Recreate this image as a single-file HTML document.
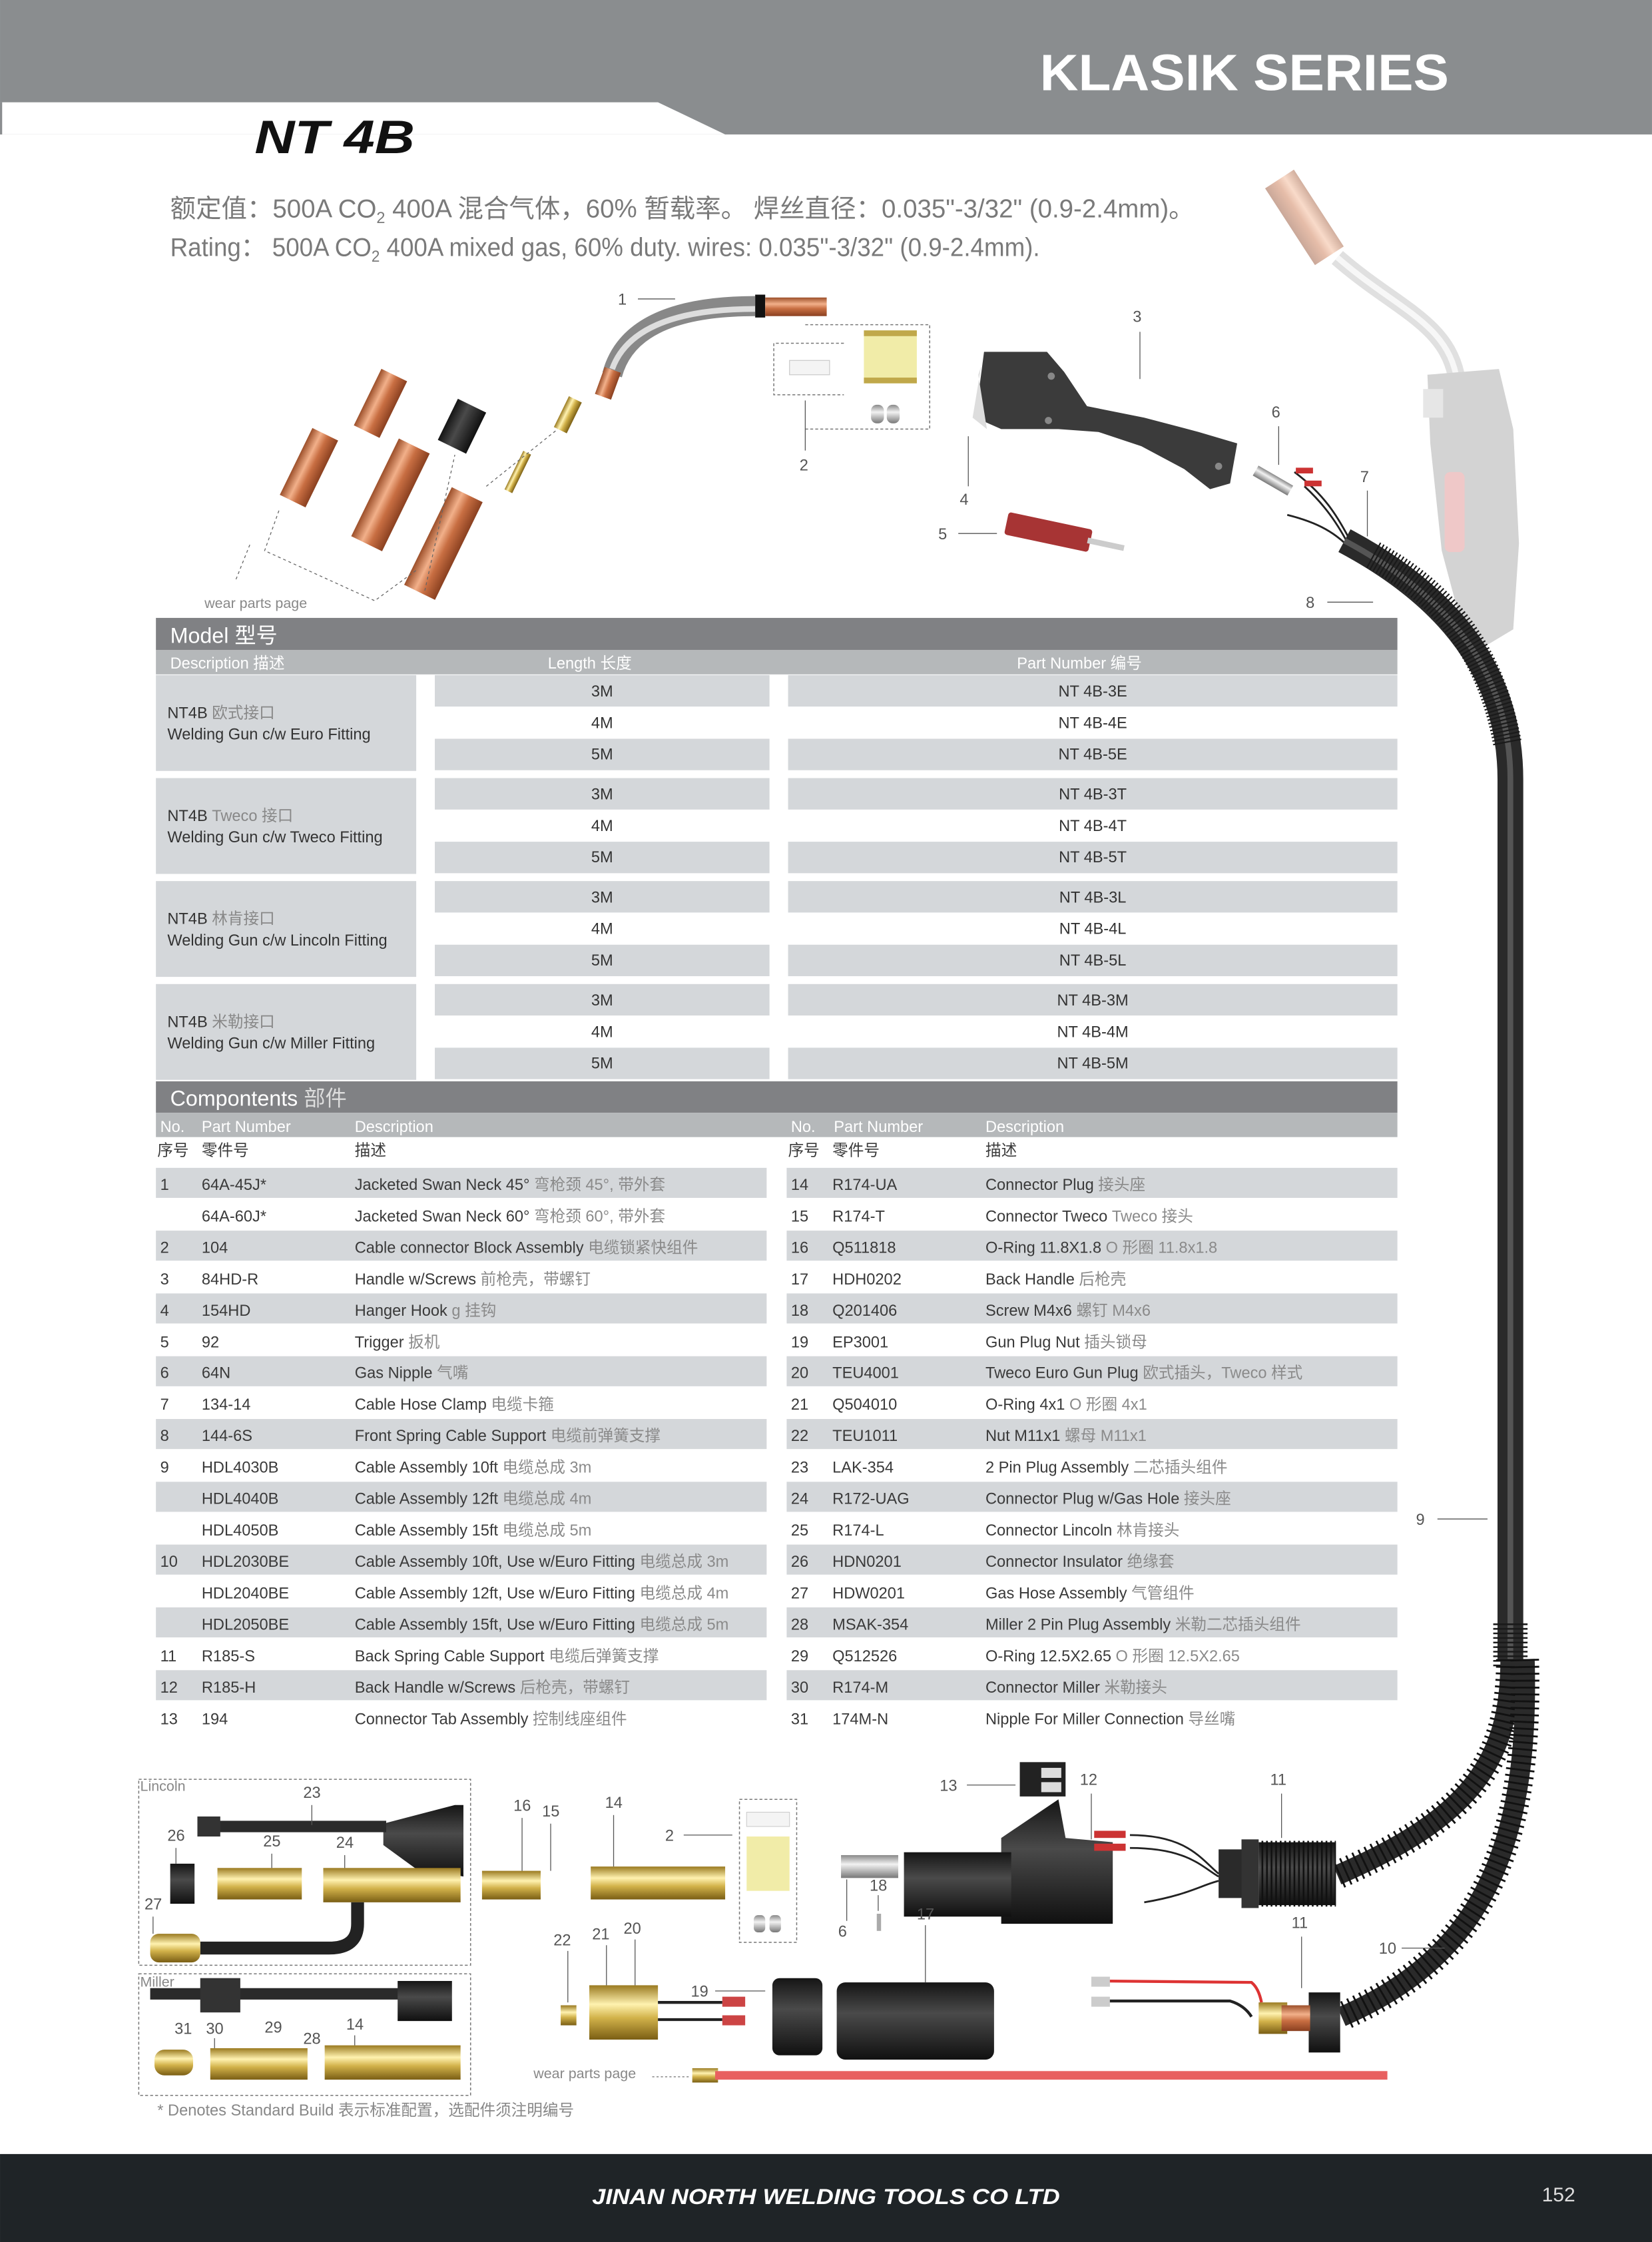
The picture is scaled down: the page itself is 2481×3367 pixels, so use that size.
<!DOCTYPE html>
<html><head><meta charset="utf-8"><style>
html,body{margin:0;padding:0;background:#fff;}
svg{display:block;}
text{font-family:"Liberation Sans","Noto Sans CJK SC",sans-serif;}
.t{font-size:11px;fill:#3a3a3a;}
.c{fill:#8a8a8a;}
.h{font-size:11px;fill:#fff;}
.n{font-size:11px;fill:#555;}
.g{fill:#d4d7da;}
</style></head><body>
<svg width="2481" height="3367" viewBox="0 0 1155 1567.5" xmlns="http://www.w3.org/2000/svg">
<defs>
<linearGradient id="cu" x1="0" y1="0" x2="0" y2="1"><stop offset="0" stop-color="#9c4f2a"/><stop offset=".35" stop-color="#f2b08a"/><stop offset=".6" stop-color="#c86e42"/><stop offset="1" stop-color="#8a4020"/></linearGradient>
<linearGradient id="au" x1="0" y1="0" x2="0" y2="1"><stop offset="0" stop-color="#9a7a20"/><stop offset=".35" stop-color="#fff2b0"/><stop offset=".6" stop-color="#d2b24a"/><stop offset="1" stop-color="#7a5e14"/></linearGradient>
<linearGradient id="bk" x1="0" y1="0" x2="0" y2="1"><stop offset="0" stop-color="#151515"/><stop offset=".4" stop-color="#4a4a4a"/><stop offset="1" stop-color="#101010"/></linearGradient>
<linearGradient id="ag" x1="0" y1="0" x2="0" y2="1"><stop offset="0" stop-color="#888"/><stop offset=".4" stop-color="#f2f2f2"/><stop offset="1" stop-color="#777"/></linearGradient>
</defs>

<rect x="0" y="0" width="1155" height="94" fill="#8a8d8f"/>
<polygon points="0,71.5 460,71.5 507,94 0,94" fill="#fff"/>
<rect x="0" y="71.5" width="1.5" height="22.5" fill="#8a8d8f"/>
<text x="727" y="63" font-size="36" font-weight="bold" fill="#fff" textLength="286" lengthAdjust="spacingAndGlyphs">KLASIK SERIES</text>
<text x="178" y="107" font-size="33" font-weight="bold" font-style="italic" fill="#111" textLength="112" lengthAdjust="spacingAndGlyphs">NT 4B</text>

<text x="119" y="152" font-size="18" fill="#7a7a7a" textLength="716" lengthAdjust="spacingAndGlyphs">额定值：500A CO<tspan font-size="11" dy="4">2</tspan><tspan dy="-4"> 400A 混合气体，60% 暂载率。 焊丝直径：0.035"-3/32" (0.9-2.4mm)。</tspan></text>
<text x="119" y="179" font-size="18" fill="#7a7a7a" textLength="608" lengthAdjust="spacingAndGlyphs">Rating： 500A CO<tspan font-size="11" dy="4">2</tspan><tspan dy="-4"> 400A mixed gas, 60% duty. wires: 0.035"-3/32" (0.9-2.4mm).</tspan></text>

<g opacity="0.45">
<g transform="translate(912,152) rotate(57)"><rect x="-32" y="-12" width="64" height="24" fill="url(#cu)"/></g>
<path d="M935,180 C975,215 1010,225 1018,262" stroke="#bbb" stroke-width="12" fill="none"/>
<path d="M935,180 C975,215 1010,225 1018,262" stroke="#eee" stroke-width="4" fill="none"/>
</g>
<path d="M998,262 L1048,258 L1058,300 L1062,380 L1058,440 L1038,452 L1020,430 L1008,385 L1000,310 Z" fill="#d3d3d3"/>
<rect x="1010" y="330" width="14" height="56" rx="4" fill="#efc8c8"/>
<rect x="995" y="272" width="14" height="20" fill="#e6e6e6"/>

<g transform="translate(266,282) rotate(-64)"><rect x="-22" y="-10" width="44" height="20" fill="url(#cu)"/></g>
<g transform="translate(216,327) rotate(-64)"><rect x="-26" y="-10" width="52" height="20" fill="url(#cu)"/></g>
<g transform="translate(273,346) rotate(-64)"><rect x="-38" y="-12" width="76" height="24" fill="url(#cu)"/></g>
<g transform="translate(310,380) rotate(-64)"><rect x="-38" y="-12" width="76" height="24" fill="url(#cu)"/></g>
<g transform="translate(323,298) rotate(-64)"><rect x="-16" y="-11" width="32" height="22" fill="url(#bk)"/></g>
<g transform="translate(397,290) rotate(-64)"><rect x="-12" y="-5" width="24" height="10" fill="url(#au)"/></g>
<g transform="translate(362,330) rotate(-64)"><rect x="-15" y="-3" width="30" height="6" fill="url(#au)"/></g>
<g stroke="#666" stroke-width="0.6" stroke-dasharray="2,2" fill="none">
<path d="M195,357 L185,385 L262,420 L292,398"/><path d="M165,405 L175,380"/><path d="M297,413 L318,318"/><path d="M340,340 L390,300"/>
</g>
<text x="143" y="425" font-size="10" fill="#888">wear parts page</text>

<path d="M428,262 C436,232 466,214 528,214" stroke="#888" stroke-width="14" fill="none"/>
<path d="M428,258 C437,233 466,216 528,216" stroke="#ddd" stroke-width="4" fill="none"/>
<g transform="translate(425,268) rotate(-70)"><rect x="-10" y="-6" width="20" height="12" fill="url(#cu)"/></g>
<rect x="528" y="206" width="7" height="16" fill="#111"/>
<rect x="535" y="208" width="43" height="13" fill="url(#cu)"/>
<text x="432" y="213" class="n">1</text><line x1="446" y1="209" x2="472" y2="209" stroke="#555" stroke-width="0.6"/>

<g stroke="#777" stroke-width="0.7" stroke-dasharray="2,1.5" fill="none">
<path d="M563,227 L650,227 L650,300 L563,300"/><path d="M590,240 L541,240 L541,276 L590,276"/>
</g>
<rect x="552" y="252" width="28" height="10" fill="#f4f4f4" stroke="#ccc" stroke-width="0.6"/>
<rect x="604" y="231" width="37" height="37" fill="#f1eca8"/>
<rect x="604" y="231" width="37" height="4" fill="#c0a84a"/><rect x="604" y="264" width="37" height="4" fill="#c0a84a"/>
<rect x="609" y="283" width="9" height="13" rx="4" fill="url(#ag)"/><rect x="620" y="283" width="9" height="13" rx="4" fill="url(#ag)"/>
<line x1="563" y1="280" x2="563" y2="315" stroke="#555" stroke-width="0.6"/><text x="559" y="329" class="n">2</text>

<path d="M688,246 L732,246 L744,260 L760,284 L800,292 L838,302 L865,310 L860,338 L846,342 L828,328 L798,312 L768,302 L740,300 L700,300 L682,292 Z" fill="#3b3b3b"/>
<path d="M686,256 L680,292 L690,300 L684,262 Z" fill="#ddd"/>
<circle cx="735" cy="263" r="2.5" fill="#888"/><circle cx="733" cy="294" r="2.5" fill="#888"/><circle cx="852" cy="326" r="2.5" fill="#888"/>
<text x="792" y="225" class="n">3</text><line x1="797" y1="232" x2="797" y2="265" stroke="#555" stroke-width="0.6"/>
<line x1="677" y1="305" x2="677" y2="340" stroke="#555" stroke-width="0.6"/><text x="671" y="353" class="n">4</text>
<g transform="translate(733,372) rotate(12)"><rect x="-30" y="-8" width="60" height="16" rx="2" fill="#a73434"/><rect x="28" y="-2" width="26" height="4" fill="#ccc"/></g>
<text x="656" y="377" class="n">5</text><line x1="670" y1="373" x2="697" y2="373" stroke="#555" stroke-width="0.6"/>
<g transform="translate(890,336) rotate(30)"><rect x="-14" y="-4" width="28" height="8" fill="url(#ag)"/></g>
<path d="M905,330 C925,345 935,360 945,380 M912,340 C925,352 935,365 945,385 M900,360 C920,365 935,372 948,388" stroke="#222" stroke-width="1.3" fill="none"/>
<rect x="906" y="327" width="12" height="4" fill="#c33"/><rect x="912" y="336" width="12" height="4" fill="#c33"/>
<text x="889" y="292" class="n">6</text><line x1="894" y1="298" x2="894" y2="325" stroke="#555" stroke-width="0.6"/>
<text x="951" y="337" class="n">7</text><line x1="956" y1="343" x2="956" y2="375" stroke="#555" stroke-width="0.6"/>
<text x="913" y="425" class="n">8</text><line x1="928" y1="421" x2="960" y2="421" stroke="#555" stroke-width="0.6"/>

<path d="M940,378 C1000,410 1056,460 1056,545 L1056,1160" stroke="#2a2a2a" stroke-width="18" fill="none"/>
<path d="M940,378 C1000,410 1056,460 1056,545 L1056,1160" stroke="#555" stroke-width="4" fill="none"/>
<path d="M960,388 C1000,410 1040,445 1054,520" stroke="#1a1a1a" stroke-width="20" stroke-dasharray="1,1.6" fill="none"/>
<path d="M1056,1135 L1056,1165" stroke="#1a1a1a" stroke-width="24" stroke-dasharray="1.2,2" fill="none"/>
<path d="M1056,1160 C1056,1230 1030,1270 935,1311" stroke="#2a2a2a" stroke-width="14" fill="none"/>
<path d="M1056,1160 C1056,1230 1030,1270 935,1311" stroke="#111" stroke-width="20" stroke-dasharray="1.3,3.5" fill="none"/>
<path d="M1066,1160 C1070,1300 1030,1370 938,1410" stroke="#2a2a2a" stroke-width="14" fill="none"/>
<path d="M1066,1160 C1070,1300 1030,1370 938,1410" stroke="#111" stroke-width="20" stroke-dasharray="1.3,3.5" fill="none"/>
<text x="990" y="1066" class="n">9</text><line x1="1005" y1="1062" x2="1040" y2="1062" stroke="#555" stroke-width="0.6"/>

<rect x="109" y="432" width="868" height="22.5" fill="#808184"/>
<text x="119" y="449.5" font-size="15" fill="#fff">Model 型号</text>
<rect x="109" y="454.5" width="868" height="17" fill="#b5b8ba"/>
<text x="119" y="467.5" class="h">Description 描述</text><text x="383" y="467.5" class="h">Length 长度</text><text x="711" y="467.5" class="h">Part Number 编号</text>
<g font-size="11" fill="#333" text-anchor="middle">
<g>
<rect x="109" y="472" width="182" height="67" class="g"/><rect x="304" y="472" width="234" height="22" class="g"/><rect x="551" y="472" width="426" height="22" class="g"/><rect x="304" y="516.5" width="234" height="22" class="g"/><rect x="551" y="516.5" width="426" height="22" class="g"/>
<text x="421" y="487">3M</text><text x="764" y="487">NT 4B-3E</text><text x="421" y="509">4M</text><text x="764" y="509">NT 4B-4E</text><text x="421" y="531">5M</text><text x="764" y="531">NT 4B-5E</text>
<text x="117" y="502" text-anchor="start">NT4B <tspan fill="#888">欧式接口</tspan></text><text x="117" y="517" text-anchor="start">Welding Gun c/w Euro Fitting</text>
</g>
<g transform="translate(0,72)">
<rect x="109" y="472" width="182" height="67" class="g"/><rect x="304" y="472" width="234" height="22" class="g"/><rect x="551" y="472" width="426" height="22" class="g"/><rect x="304" y="516.5" width="234" height="22" class="g"/><rect x="551" y="516.5" width="426" height="22" class="g"/>
<text x="421" y="487">3M</text><text x="764" y="487">NT 4B-3T</text><text x="421" y="509">4M</text><text x="764" y="509">NT 4B-4T</text><text x="421" y="531">5M</text><text x="764" y="531">NT 4B-5T</text>
<text x="117" y="502" text-anchor="start">NT4B <tspan fill="#888">Tweco 接口</tspan></text><text x="117" y="517" text-anchor="start">Welding Gun c/w Tweco Fitting</text>
</g>
<g transform="translate(0,144)">
<rect x="109" y="472" width="182" height="67" class="g"/><rect x="304" y="472" width="234" height="22" class="g"/><rect x="551" y="472" width="426" height="22" class="g"/><rect x="304" y="516.5" width="234" height="22" class="g"/><rect x="551" y="516.5" width="426" height="22" class="g"/>
<text x="421" y="487">3M</text><text x="764" y="487">NT 4B-3L</text><text x="421" y="509">4M</text><text x="764" y="509">NT 4B-4L</text><text x="421" y="531">5M</text><text x="764" y="531">NT 4B-5L</text>
<text x="117" y="502" text-anchor="start">NT4B <tspan fill="#888">林肯接口</tspan></text><text x="117" y="517" text-anchor="start">Welding Gun c/w Lincoln Fitting</text>
</g>
<g transform="translate(0,216)">
<rect x="109" y="472" width="182" height="67" class="g"/><rect x="304" y="472" width="234" height="22" class="g"/><rect x="551" y="472" width="426" height="22" class="g"/><rect x="304" y="516.5" width="234" height="22" class="g"/><rect x="551" y="516.5" width="426" height="22" class="g"/>
<text x="421" y="487">3M</text><text x="764" y="487">NT 4B-3M</text><text x="421" y="509">4M</text><text x="764" y="509">NT 4B-4M</text><text x="421" y="531">5M</text><text x="764" y="531">NT 4B-5M</text>
<text x="117" y="502" text-anchor="start">NT4B <tspan fill="#888">米勒接口</tspan></text><text x="117" y="517" text-anchor="start">Welding Gun c/w Miller Fitting</text>
</g>
</g>

<rect x="109" y="756" width="868" height="22" fill="#808184"/>
<text x="119" y="773" font-size="15" fill="#fff">Compontents <tspan fill="#ddd">部件</tspan></text>
<rect x="109" y="778" width="868" height="17" fill="#b5b8ba"/>
<text x="112" y="791.5" class="h">No.</text><text x="141" y="791.5" class="h">Part Number</text><text x="248" y="791.5" class="h">Description</text>
<text x="553" y="791.5" class="h">No.</text><text x="583" y="791.5" class="h">Part Number</text><text x="689" y="791.5" class="h">Description</text>
<text x="110" y="808" class="t">序号</text><text x="141" y="808" class="t">零件号</text><text x="248" y="808" class="t">描述</text>
<text x="551" y="808" class="t">序号</text><text x="582" y="808" class="t">零件号</text><text x="689" y="808" class="t">描述</text>
<g class="g">
<rect x="109" y="816.5" width="427" height="21"/><rect x="550" y="816.5" width="427" height="21"/>
<rect x="109" y="860.4" width="427" height="21"/><rect x="550" y="860.4" width="427" height="21"/>
<rect x="109" y="904.3" width="427" height="21"/><rect x="550" y="904.3" width="427" height="21"/>
<rect x="109" y="948.2" width="427" height="21"/><rect x="550" y="948.2" width="427" height="21"/>
<rect x="109" y="992.1" width="427" height="21"/><rect x="550" y="992.1" width="427" height="21"/>
<rect x="109" y="1036" width="427" height="21"/><rect x="550" y="1036" width="427" height="21"/>
<rect x="109" y="1079.9" width="427" height="21"/><rect x="550" y="1079.9" width="427" height="21"/>
<rect x="109" y="1123.8" width="427" height="21"/><rect x="550" y="1123.8" width="427" height="21"/>
<rect x="109" y="1167.7" width="427" height="21"/><rect x="550" y="1167.7" width="427" height="21"/>
</g>
<g class="t">
<text x="112" y="832">1</text><text x="141" y="832">64A-45J*</text><text x="248" y="832">Jacketed Swan Neck 45° <tspan class="c">弯枪颈 45°, 带外套</tspan></text>
<text x="141" y="854">64A-60J*</text><text x="248" y="854">Jacketed Swan Neck 60° <tspan class="c">弯枪颈 60°, 带外套</tspan></text>
<text x="112" y="876">2</text><text x="141" y="876">104</text><text x="248" y="876">Cable connector Block Assembly <tspan class="c">电缆锁紧快组件</tspan></text>
<text x="112" y="898">3</text><text x="141" y="898">84HD-R</text><text x="248" y="898">Handle w/Screws <tspan class="c">前枪壳，带螺钉</tspan></text>
<text x="112" y="920">4</text><text x="141" y="920">154HD</text><text x="248" y="920">Hanger Hook <tspan class="c">g 挂钩</tspan></text>
<text x="112" y="942">5</text><text x="141" y="942">92</text><text x="248" y="942">Trigger <tspan class="c">扳机</tspan></text>
<text x="112" y="963.5">6</text><text x="141" y="963.5">64N</text><text x="248" y="963.5">Gas Nipple <tspan class="c">气嘴</tspan></text>
<text x="112" y="985.5">7</text><text x="141" y="985.5">134-14</text><text x="248" y="985.5">Cable Hose Clamp <tspan class="c">电缆卡箍</tspan></text>
<text x="112" y="1007.5">8</text><text x="141" y="1007.5">144-6S</text><text x="248" y="1007.5">Front Spring Cable Support <tspan class="c">电缆前弹簧支撑</tspan></text>
<text x="112" y="1029.5">9</text><text x="141" y="1029.5">HDL4030B</text><text x="248" y="1029.5">Cable Assembly 10ft <tspan class="c">电缆总成 3m</tspan></text>
<text x="141" y="1051.5">HDL4040B</text><text x="248" y="1051.5">Cable Assembly 12ft <tspan class="c">电缆总成 4m</tspan></text>
<text x="141" y="1073.5">HDL4050B</text><text x="248" y="1073.5">Cable Assembly 15ft <tspan class="c">电缆总成 5m</tspan></text>
<text x="112" y="1095.5">10</text><text x="141" y="1095.5">HDL2030BE</text><text x="248" y="1095.5">Cable Assembly 10ft, Use w/Euro Fitting <tspan class="c">电缆总成 3m</tspan></text>
<text x="141" y="1117.5">HDL2040BE</text><text x="248" y="1117.5">Cable Assembly 12ft, Use w/Euro Fitting <tspan class="c">电缆总成 4m</tspan></text>
<text x="141" y="1139.5">HDL2050BE</text><text x="248" y="1139.5">Cable Assembly 15ft, Use w/Euro Fitting <tspan class="c">电缆总成 5m</tspan></text>
<text x="112" y="1161.5">11</text><text x="141" y="1161.5">R185-S</text><text x="248" y="1161.5">Back Spring Cable Support <tspan class="c">电缆后弹簧支撑</tspan></text>
<text x="112" y="1183.5">12</text><text x="141" y="1183.5">R185-H</text><text x="248" y="1183.5">Back Handle w/Screws <tspan class="c">后枪壳，带螺钉</tspan></text>
<text x="112" y="1205.5">13</text><text x="141" y="1205.5">194</text><text x="248" y="1205.5">Connector Tab Assembly <tspan class="c">控制线座组件</tspan></text>

<text x="553" y="832">14</text><text x="582" y="832">R174-UA</text><text x="689" y="832">Connector Plug <tspan class="c">接头座</tspan></text>
<text x="553" y="854">15</text><text x="582" y="854">R174-T</text><text x="689" y="854">Connector Tweco <tspan class="c"> Tweco 接头</tspan></text>
<text x="553" y="876">16</text><text x="582" y="876">Q511818</text><text x="689" y="876">O-Ring 11.8X1.8 <tspan class="c">O 形圈 11.8x1.8</tspan></text>
<text x="553" y="898">17</text><text x="582" y="898">HDH0202</text><text x="689" y="898">Back Handle <tspan class="c">后枪壳</tspan></text>
<text x="553" y="920">18</text><text x="582" y="920">Q201406</text><text x="689" y="920">Screw M4x6 <tspan class="c">螺钉 M4x6</tspan></text>
<text x="553" y="942">19</text><text x="582" y="942">EP3001</text><text x="689" y="942">Gun Plug Nut <tspan class="c">插头锁母</tspan></text>
<text x="553" y="963.5">20</text><text x="582" y="963.5">TEU4001</text><text x="689" y="963.5">Tweco Euro Gun Plug <tspan class="c">欧式插头，Tweco 样式</tspan></text>
<text x="553" y="985.5">21</text><text x="582" y="985.5">Q504010</text><text x="689" y="985.5">O-Ring 4x1 <tspan class="c">O 形圈 4x1</tspan></text>
<text x="553" y="1007.5">22</text><text x="582" y="1007.5">TEU1011</text><text x="689" y="1007.5">Nut M11x1 <tspan class="c">螺母 M11x1</tspan></text>
<text x="553" y="1029.5">23</text><text x="582" y="1029.5">LAK-354</text><text x="689" y="1029.5">2 Pin Plug Assembly <tspan class="c">二芯插头组件</tspan></text>
<text x="553" y="1051.5">24</text><text x="582" y="1051.5">R172-UAG</text><text x="689" y="1051.5">Connector Plug w/Gas Hole <tspan class="c">接头座</tspan></text>
<text x="553" y="1073.5">25</text><text x="582" y="1073.5">R174-L</text><text x="689" y="1073.5">Connector Lincoln <tspan class="c">林肯接头</tspan></text>
<text x="553" y="1095.5">26</text><text x="582" y="1095.5">HDN0201</text><text x="689" y="1095.5">Connector Insulator <tspan class="c">绝缘套</tspan></text>
<text x="553" y="1117.5">27</text><text x="582" y="1117.5">HDW0201</text><text x="689" y="1117.5">Gas Hose Assembly <tspan class="c">气管组件</tspan></text>
<text x="553" y="1139.5">28</text><text x="582" y="1139.5">MSAK-354</text><text x="689" y="1139.5">Miller 2 Pin Plug Assembly <tspan class="c">米勒二芯插头组件</tspan></text>
<text x="553" y="1161.5">29</text><text x="582" y="1161.5">Q512526</text><text x="689" y="1161.5">O-Ring 12.5X2.65 <tspan class="c">O 形圈 12.5X2.65</tspan></text>
<text x="553" y="1183.5">30</text><text x="582" y="1183.5">R174-M</text><text x="689" y="1183.5">Connector Miller <tspan class="c">米勒接头</tspan></text>
<text x="553" y="1205.5">31</text><text x="582" y="1205.5">174M-N</text><text x="689" y="1205.5">Nipple For Miller Connection <tspan class="c">导丝嘴</tspan></text>
</g>

<g stroke="#777" stroke-width="0.7" stroke-dasharray="2,1.5" fill="none">
<rect x="97" y="1244" width="232" height="130"/><rect x="97" y="1380" width="232" height="85"/>
<rect x="517" y="1258" width="40" height="100"/>
</g>
<text x="98" y="1252" font-size="10" fill="#888">Lincoln</text>
<text x="98" y="1389" font-size="10" fill="#888">Miller</text>
<path d="M268,1275 L318,1262 L324,1262 L324,1312 L290,1306 L268,1290 Z" fill="url(#bk)"/>
<rect x="140" y="1273" width="130" height="8" fill="#2a2a2a"/><rect x="138" y="1270" width="16" height="14" fill="#333"/>
<rect x="119" y="1303" width="17" height="28" fill="url(#bk)"/>
<rect x="152" y="1306" width="59" height="22" fill="url(#au)"/>
<rect x="226" y="1306" width="96" height="24" fill="url(#au)"/>
<path d="M250,1330 L250,1345 Q250,1362 230,1362 L140,1362" stroke="#222" stroke-width="9" fill="none"/>
<rect x="105" y="1352" width="35" height="20" rx="6" fill="url(#au)"/>
<rect x="105" y="1390" width="210" height="8" fill="#2a2a2a"/>
<rect x="140" y="1383" width="28" height="24" fill="#333"/><rect x="278" y="1385" width="38" height="28" fill="url(#bk)"/>
<rect x="108" y="1433" width="27" height="18" rx="7" fill="url(#au)"/>
<rect x="147" y="1432" width="68" height="22" fill="url(#au)"/>
<rect x="227" y="1430" width="95" height="24" fill="url(#au)"/>
<rect x="337" y="1308" width="41" height="20" fill="url(#au)"/>
<rect x="413" y="1305" width="94" height="23" fill="url(#au)"/>
<rect x="522" y="1267" width="30" height="10" fill="#f4f4f4" stroke="#ccc" stroke-width="0.5"/>
<rect x="522" y="1284" width="30" height="38" fill="#f1eca8"/>
<rect x="527" y="1339" width="8" height="12" rx="3" fill="url(#ag)"/><rect x="538" y="1339" width="8" height="12" rx="3" fill="url(#ag)"/>
<rect x="588" y="1297" width="40" height="16" fill="url(#ag)"/>
<rect x="613" y="1338" width="3" height="12" fill="#aaa"/>
<path d="M700,1285 L740,1258 L745,1285 L778,1288 L778,1345 L700,1345 Z" fill="url(#bk)"/>
<rect x="632" y="1295" width="75" height="45" fill="url(#bk)"/>
<rect x="713" y="1232" width="32" height="24" fill="#222"/><rect x="728" y="1236" width="14" height="7" fill="#ddd"/><rect x="728" y="1246" width="14" height="7" fill="#ddd"/>
<path d="M790,1283 C830,1283 840,1300 852,1310 M790,1292 C830,1292 840,1305 852,1312 M800,1330 C830,1325 840,1318 852,1315" stroke="#222" stroke-width="1.3" fill="none"/>
<rect x="765" y="1280" width="22" height="5" fill="#c33"/><rect x="765" y="1289" width="22" height="5" fill="#c33"/>
<rect x="852" y="1293" width="18" height="34" fill="#2a2a2a"/>
<rect x="868" y="1286" width="12" height="48" fill="#333"/>
<rect x="880" y="1288" width="54" height="44" fill="url(#bk)"/>
<line x1="882" y1="1310" x2="934" y2="1310" stroke="#111" stroke-width="46" stroke-dasharray="1.2,2"/>
<rect x="915" y="1393" width="22" height="42" fill="url(#bk)"/>
<rect x="460" y="1400" width="0" height="0"/>
<rect x="392" y="1402" width="11" height="14" fill="url(#au)"/>
<rect x="412" y="1388" width="48" height="38" fill="url(#au)"/>
<path d="M460,1400 L505,1400 M460,1412 L505,1412" stroke="#222" stroke-width="2"/>
<rect x="505" y="1396" width="16" height="7" fill="#c44"/><rect x="505" y="1409" width="16" height="7" fill="#c44"/>
<rect x="540" y="1383" width="35" height="54" rx="5" fill="url(#bk)"/>
<rect x="585" y="1386" width="110" height="54" rx="6" fill="url(#bk)"/>
<path d="M767,1385 L875,1386 Q880,1390 882,1400" stroke="#d33" stroke-width="2" fill="none"/>
<path d="M767,1399 L860,1399 Q870,1402 875,1410" stroke="#222" stroke-width="2" fill="none"/>
<rect x="763" y="1382" width="13" height="7" fill="#ccc"/><rect x="763" y="1396" width="13" height="7" fill="#ccc"/>
<rect x="880" y="1400" width="20" height="22" fill="url(#au)"/><rect x="896" y="1402" width="20" height="18" fill="url(#cu)"/>
<rect x="484" y="1446" width="18" height="10" fill="url(#au)"/>
<rect x="500" y="1448" width="470" height="6" fill="#e86060"/>
<text x="373" y="1453" font-size="10" fill="#888">wear parts page</text>
<line x1="456" y1="1452" x2="482" y2="1452" stroke="#888" stroke-width="0.7" stroke-dasharray="1.5,1.5"/>
<g class="n" font-size="11" fill="#555">
<text x="212" y="1257">23</text><text x="117" y="1287">26</text><text x="184" y="1291">25</text><text x="235" y="1292">24</text><text x="101" y="1335">27</text>
<text x="359" y="1266">16</text><text x="379" y="1270">15</text><text x="423" y="1264">14</text><text x="465" y="1287">2</text>
<text x="608" y="1322">18</text><text x="641" y="1342">17</text><text x="586" y="1354">6</text>
<text x="387" y="1360">22</text><text x="414" y="1356">21</text><text x="436" y="1352">20</text><text x="483" y="1396">19</text>
<text x="122" y="1422">31</text><text x="144" y="1422">30</text><text x="185" y="1421">29</text><text x="212" y="1429">28</text><text x="242" y="1419">14</text>
<text x="657" y="1252">13</text><text x="755" y="1248">12</text><text x="888" y="1248">11</text><text x="903" y="1348">11</text><text x="964" y="1366">10</text>
</g>
<g stroke="#555" stroke-width="0.6">
<line x1="218" y1="1262" x2="218" y2="1276"/><line x1="123" y1="1292" x2="123" y2="1303"/><line x1="190" y1="1296" x2="190" y2="1306"/><line x1="241" y1="1297" x2="241" y2="1306"/><line x1="107" y1="1340" x2="107" y2="1352"/>
<line x1="365" y1="1271" x2="365" y2="1308"/><line x1="385" y1="1275" x2="385" y2="1308"/><line x1="429" y1="1269" x2="429" y2="1305"/><line x1="478" y1="1283" x2="512" y2="1283"/>
<line x1="614" y1="1325" x2="614" y2="1336"/><line x1="647" y1="1346" x2="647" y2="1386"/><line x1="592" y1="1314" x2="592" y2="1343"/>
<line x1="397" y1="1364" x2="397" y2="1400"/><line x1="424" y1="1360" x2="424" y2="1388"/><line x1="444" y1="1356" x2="444" y2="1388"/><line x1="500" y1="1392" x2="535" y2="1392"/>
<line x1="150" y1="1425" x2="150" y2="1432"/><line x1="248" y1="1423" x2="248" y2="1430"/>
<line x1="676" y1="1248" x2="710" y2="1248"/><line x1="763" y1="1254" x2="763" y2="1286"/><line x1="896" y1="1254" x2="896" y2="1285"/><line x1="910" y1="1354" x2="910" y2="1390"/><line x1="980" y1="1362" x2="1010" y2="1362"/>
</g>
<text x="110" y="1479" font-size="11" fill="#888">* Denotes Standard Build 表示标准配置，选配件须注明编号</text>

<rect x="0" y="1506" width="1155" height="62" fill="#1f2427"/>
<text x="414" y="1541" font-size="15" font-weight="bold" font-style="italic" fill="#fff" textLength="327" lengthAdjust="spacingAndGlyphs">JINAN NORTH WELDING TOOLS CO LTD</text>
<text x="1078" y="1539" font-size="14" fill="#ddd">152</text>
</svg>
</body></html>
